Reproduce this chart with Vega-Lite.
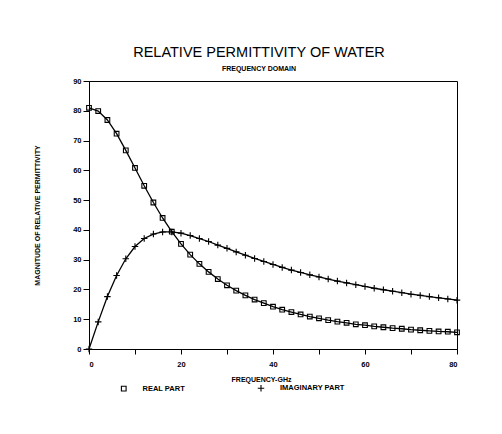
{
  "$schema": "https://vega.github.io/schema/vega-lite/v6.json",
  "autosize": "none",
  "width": 368,
  "height": 268,
  "padding": {"left": 89, "top": 81, "right": 45, "bottom": 85},
  "background": "white",
  "title": {
    "text": "RELATIVE PERMITTIVITY OF WATER",
    "subtitle": "FREQUENCY DOMAIN",
    "font": "Liberation Sans",
    "fontSize": 14.5,
    "fontWeight": "normal",
    "color": "black",
    "subtitleFont": "Liberation Sans",
    "subtitleFontSize": 7,
    "subtitleFontWeight": "bold",
    "subtitleColor": "black",
    "subtitlePadding": 5,
    "offset": 4,
    "dx": -14
  },
  "config": {
    "view": {"stroke": "black", "strokeWidth": 1},
    "axis": {
      "grid": false,
      "domainColor": "black",
      "tickColor": "black",
      "labelColor": "black",
      "titleColor": "black",
      "labelFont": "Liberation Sans",
      "labelFontWeight": "bold",
      "labelFontSize": 7.5,
      "titleFont": "Liberation Sans",
      "titleFontWeight": "bold",
      "titleFontSize": 7
    },
    "legend": {
      "symbolStrokeColor": "black",
      "symbolFillColor": "transparent",
      "symbolStrokeWidth": 1.1,
      "labelFont": "Liberation Sans",
      "labelFontWeight": "bold",
      "labelFontSize": 7.5,
      "labelColor": "black"
    }
  },
  "data": {
    "values": [
      {"f": 0, "part": "REAL PART", "v": 81.0},
      {"f": 2, "part": "REAL PART", "v": 79.9},
      {"f": 4, "part": "REAL PART", "v": 76.9},
      {"f": 6, "part": "REAL PART", "v": 72.3},
      {"f": 8, "part": "REAL PART", "v": 66.7},
      {"f": 10, "part": "REAL PART", "v": 60.8},
      {"f": 12, "part": "REAL PART", "v": 54.8},
      {"f": 14, "part": "REAL PART", "v": 49.2},
      {"f": 16, "part": "REAL PART", "v": 44.0},
      {"f": 18, "part": "REAL PART", "v": 39.4},
      {"f": 20, "part": "REAL PART", "v": 35.3},
      {"f": 22, "part": "REAL PART", "v": 31.7},
      {"f": 24, "part": "REAL PART", "v": 28.6},
      {"f": 26, "part": "REAL PART", "v": 25.9},
      {"f": 28, "part": "REAL PART", "v": 23.5},
      {"f": 30, "part": "REAL PART", "v": 21.4},
      {"f": 32, "part": "REAL PART", "v": 19.6},
      {"f": 34, "part": "REAL PART", "v": 18.0},
      {"f": 36, "part": "REAL PART", "v": 16.6},
      {"f": 38, "part": "REAL PART", "v": 15.4},
      {"f": 40, "part": "REAL PART", "v": 14.2},
      {"f": 42, "part": "REAL PART", "v": 13.2},
      {"f": 44, "part": "REAL PART", "v": 12.4},
      {"f": 46, "part": "REAL PART", "v": 11.6},
      {"f": 48, "part": "REAL PART", "v": 10.9},
      {"f": 50, "part": "REAL PART", "v": 10.3},
      {"f": 52, "part": "REAL PART", "v": 9.7},
      {"f": 54, "part": "REAL PART", "v": 9.2},
      {"f": 56, "part": "REAL PART", "v": 8.8},
      {"f": 58, "part": "REAL PART", "v": 8.3},
      {"f": 60, "part": "REAL PART", "v": 8.0},
      {"f": 62, "part": "REAL PART", "v": 7.6},
      {"f": 64, "part": "REAL PART", "v": 7.3},
      {"f": 66, "part": "REAL PART", "v": 7.0},
      {"f": 68, "part": "REAL PART", "v": 6.8},
      {"f": 70, "part": "REAL PART", "v": 6.5},
      {"f": 72, "part": "REAL PART", "v": 6.3},
      {"f": 74, "part": "REAL PART", "v": 6.1},
      {"f": 76, "part": "REAL PART", "v": 5.9},
      {"f": 78, "part": "REAL PART", "v": 5.8},
      {"f": 80, "part": "REAL PART", "v": 5.6},
      {"f": 0, "part": "IMAGINARY PART", "v": 0.0},
      {"f": 2, "part": "IMAGINARY PART", "v": 9.1},
      {"f": 4, "part": "IMAGINARY PART", "v": 17.6},
      {"f": 6, "part": "IMAGINARY PART", "v": 24.7},
      {"f": 8, "part": "IMAGINARY PART", "v": 30.3},
      {"f": 10, "part": "IMAGINARY PART", "v": 34.4},
      {"f": 12, "part": "IMAGINARY PART", "v": 37.1},
      {"f": 14, "part": "IMAGINARY PART", "v": 38.6},
      {"f": 16, "part": "IMAGINARY PART", "v": 39.3},
      {"f": 18, "part": "IMAGINARY PART", "v": 39.3},
      {"f": 20, "part": "IMAGINARY PART", "v": 38.9},
      {"f": 22, "part": "IMAGINARY PART", "v": 38.1},
      {"f": 24, "part": "IMAGINARY PART", "v": 37.1},
      {"f": 26, "part": "IMAGINARY PART", "v": 36.1},
      {"f": 28, "part": "IMAGINARY PART", "v": 34.9},
      {"f": 30, "part": "IMAGINARY PART", "v": 33.8},
      {"f": 32, "part": "IMAGINARY PART", "v": 32.6},
      {"f": 34, "part": "IMAGINARY PART", "v": 31.5},
      {"f": 36, "part": "IMAGINARY PART", "v": 30.4},
      {"f": 38, "part": "IMAGINARY PART", "v": 29.4},
      {"f": 40, "part": "IMAGINARY PART", "v": 28.4},
      {"f": 42, "part": "IMAGINARY PART", "v": 27.4},
      {"f": 44, "part": "IMAGINARY PART", "v": 26.5},
      {"f": 46, "part": "IMAGINARY PART", "v": 25.7},
      {"f": 48, "part": "IMAGINARY PART", "v": 24.9},
      {"f": 50, "part": "IMAGINARY PART", "v": 24.2},
      {"f": 52, "part": "IMAGINARY PART", "v": 23.5},
      {"f": 54, "part": "IMAGINARY PART", "v": 22.8},
      {"f": 56, "part": "IMAGINARY PART", "v": 22.2},
      {"f": 58, "part": "IMAGINARY PART", "v": 21.6},
      {"f": 60, "part": "IMAGINARY PART", "v": 21.0},
      {"f": 62, "part": "IMAGINARY PART", "v": 20.4},
      {"f": 64, "part": "IMAGINARY PART", "v": 19.9},
      {"f": 66, "part": "IMAGINARY PART", "v": 19.4},
      {"f": 68, "part": "IMAGINARY PART", "v": 18.9},
      {"f": 70, "part": "IMAGINARY PART", "v": 18.4},
      {"f": 72, "part": "IMAGINARY PART", "v": 18.0},
      {"f": 74, "part": "IMAGINARY PART", "v": 17.6},
      {"f": 76, "part": "IMAGINARY PART", "v": 17.2},
      {"f": 78, "part": "IMAGINARY PART", "v": 16.8},
      {"f": 80, "part": "IMAGINARY PART", "v": 16.4}
    ]
  },
  "encoding": {
    "x": {
      "field": "f",
      "type": "quantitative",
      "title": "FREQUENCY-GHz",
      "scale": {"domain": [0, 80], "nice": false, "zero": true},
      "axis": {
        "values": [0, 10, 20, 30, 40, 50, 60, 70, 80],
        "labelExpr": "datum.value % 20 == 0 ? datum.label : ''",
        "tickSize": 5,
        "labelPadding": 6,
        "titleX": 172,
        "titleY": 30,
        "titleBaseline": "middle"
      }
    },
    "y": {
      "field": "v",
      "type": "quantitative",
      "title": "MAGNITUDE OF RELATIVE PERMITTIVITY",
      "scale": {"domain": [0, 90], "nice": false},
      "axis": {
        "values": [0, 10, 20, 30, 40, 50, 60, 70, 80, 90],
        "tickSize": 6,
        "labelPadding": 2,
        "titleX": -52,
        "titleY": 134,
        "titleAngle": -90,
        "titleAlign": "center",
        "titleBaseline": "middle"
      }
    }
  },
  "layer": [
    {
      "mark": {"type": "line", "color": "black", "strokeWidth": 1.3},
      "encoding": {"detail": {"field": "part", "type": "nominal"}}
    },
    {
      "mark": {"type": "point", "filled": false, "color": "black", "strokeWidth": 1.1, "opacity": 1},
      "encoding": {
        "shape": {
          "field": "part",
          "type": "nominal",
          "scale": {
            "domain": ["REAL PART", "IMAGINARY PART"],
            "range": ["square", "M-1,0H1M0,-1V1"]
          },
          "legend": {
            "orient": "none",
            "legendX": 31,
            "legendY": 303,
            "direction": "horizontal",
            "title": null,
            "padding": 0,
            "labelOffset": 15,
            "columnPadding": 70
          }
        },
        "size": {
          "field": "part",
          "type": "nominal",
          "scale": {
            "domain": ["REAL PART", "IMAGINARY PART"],
            "range": [22, 42]
          }
        }
      }
    }
  ]
}
